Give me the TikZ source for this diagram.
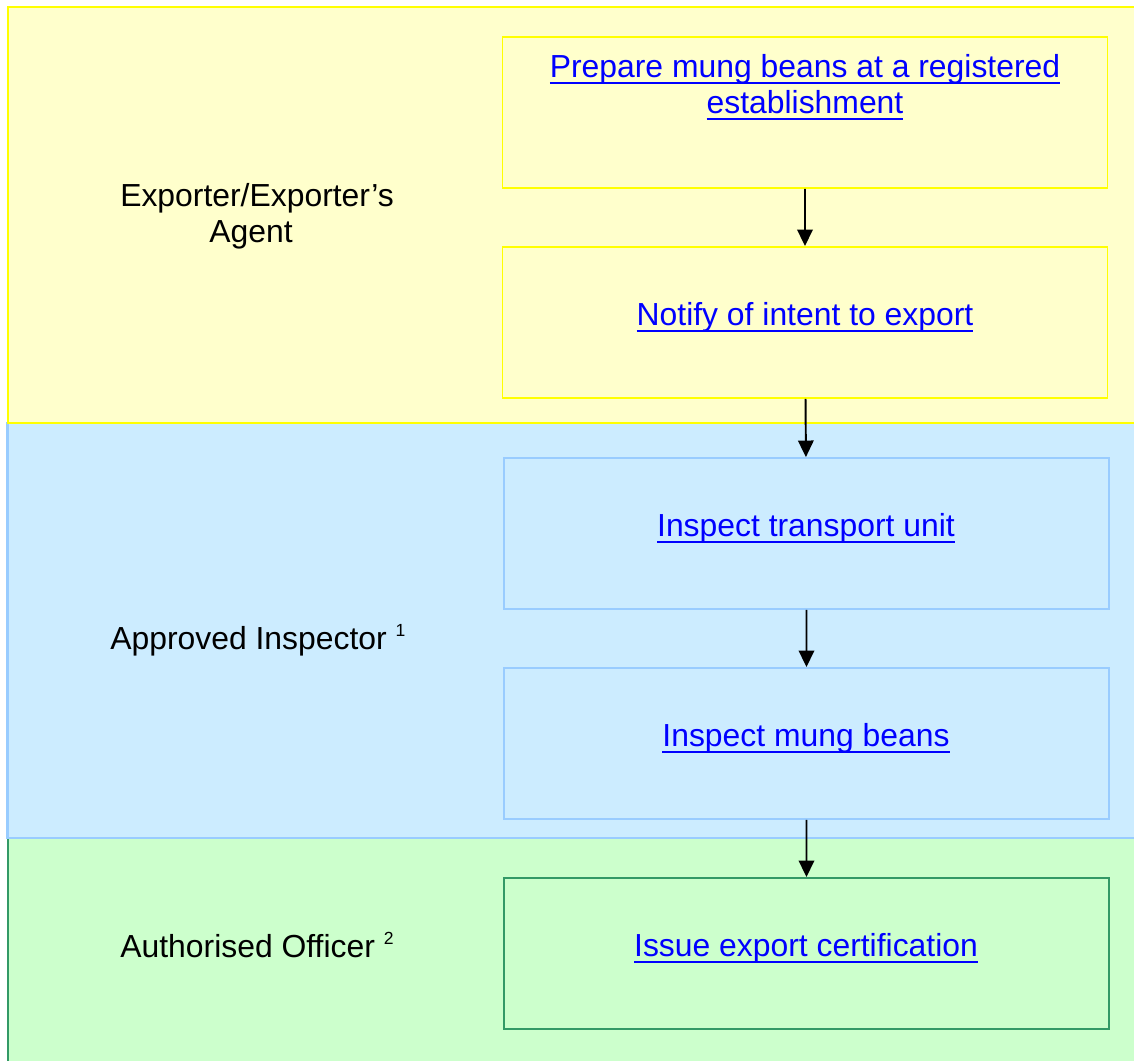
\documentclass[tikz,border=0pt]{standalone}
\usepackage{fontspec}
\setmainfont{Liberation Sans}
\usetikzlibrary{arrows.meta}
\definecolor{laneyellow}{HTML}{FFFFCC}
\definecolor{lineyellow}{HTML}{FFFF00}
\definecolor{laneblue}{HTML}{CCECFF}
\definecolor{lineblue}{HTML}{99CCFF}
\definecolor{lanegreen}{HTML}{CCFFCC}
\definecolor{linegreen}{HTML}{339966}
\definecolor{linkblue}{HTML}{0000FF}
\newsavebox{\lnkbox}
\newcommand{\lnk}[1]{\sbox{\lnkbox}{#1}{\color{linkblue}\rlap{\rule[-3.9pt]{\wd\lnkbox}{1.3pt}}#1}}
\newcommand{\sups}[1]{\raisebox{7pt}{\fontsize{10}{10}\selectfont #1}}

\begin{document}
\begin{tikzpicture}[scale=0.2]
\tikzstyle{every node}+=[inner sep=0pt, font=\fontsize{18.14}{20.4}\selectfont]
\tikzstyle{stepbox}=[rectangle, line width=1.1pt, minimum width=12.1cm, minimum height=3.02cm]
\tikzstyle{flow}=[black, line width=1.1pt, -{Triangle[length=0.33cm, width=0.31cm]}]
\useasboundingbox (0,0) rectangle (113.4,-106);
\clip (0,0) rectangle (113.4,-106);
% lanes
\draw [linegreen, fill=lanegreen, line width=1.6pt] (0.8,-83.8) rectangle (115,-108);
\draw [lineblue, fill=laneblue, line width=1.6pt] (0.75,-42.3) rectangle (115,-83.8);
\draw [lineyellow, fill=laneyellow, line width=1.6pt] (0.8,-0.7) rectangle (115,-42.3);
\node [anchor=base, align=center] (exporter) at (25.7,-24.2) {Exporter/Exporter’s\\Agent\hspace*{6.8pt}};
\node [anchor=base west] (inspector) at (11.0,-64.9) {Approved Inspector \sups{1}};
\node [anchor=base west] (officer) at (12.0,-95.7) {Authorised Officer \sups{2}};
% boxes
\node [stepbox, draw=lineyellow] (prepare) at (80.5,-11.25) {};
\node [stepbox, draw=lineyellow] (notify) at (80.5,-32.25) {};
\node [stepbox, draw=lineblue] (transport) at (80.65,-53.35) {};
\node [stepbox, draw=lineblue] (beans) at (80.65,-74.35) {};
\node [stepbox, draw=linegreen] (issue) at (80.65,-95.35) {};
\node [anchor=base, align=center] (prepare text) at (80.5,-11.3) {\lnk{Prepare mung beans at a registered}\\\lnk{establishment}};
\node [anchor=base] (notify text) at (80.5,-32.5) {\lnk{Notify of intent to export}};
\node [anchor=base] (transport text) at (80.6,-53.6) {\lnk{Inspect transport unit}};
\node [anchor=base] (beans text) at (80.6,-74.6) {\lnk{Inspect mung beans}};
\node [anchor=base] (issue text) at (80.6,-95.6) {\lnk{Issue export certification}};
% arrows
\draw [flow] (prepare) -- (notify);
\draw [flow] (notify) -- (transport);
\draw [flow] (transport) -- (beans);
\draw [flow] (beans) -- (issue);
\end{tikzpicture}
\end{document}
